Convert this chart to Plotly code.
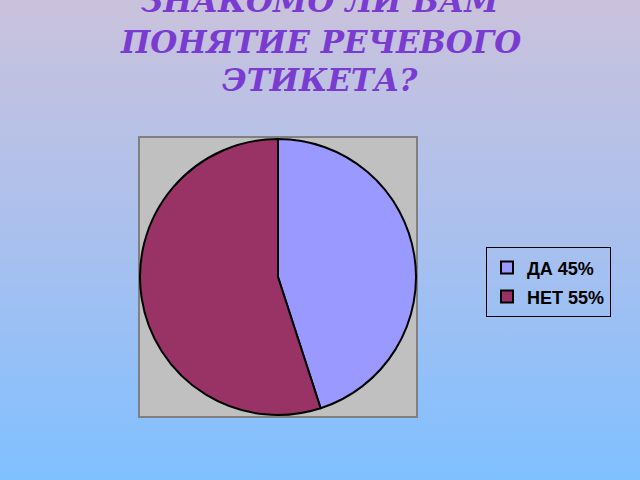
import plotly.graph_objects as go
import urllib.parse

labels = ["ДА 45%", "НЕТ 55%"]
values = [45, 55]
colors = ["#9999ff", "#993366"]
title_lines = ["ЗНАКОМО ЛИ ВАМ", "ПОНЯТИЕ РЕЧЕВОГО", "ЭТИКЕТА?"]

W, H = 640, 480

def px(x):
    return x / W

def py(y):
    return 1 - y / H

legend_labels = [f"<span style='font-size:18px'><b>{l}</b></span>" for l in labels]

fig = go.Figure()
fig.add_trace(go.Pie(
    labels=legend_labels,
    values=values,
    sort=False,
    direction="clockwise",
    rotation=0,
    marker=dict(colors=colors, line=dict(color="black", width=2)),
    textinfo="none",
    hoverinfo="label+percent",
    domain=dict(x=[px(140), px(416)], y=[py(416), py(138)]),
))

svg = ("<svg xmlns='http://www.w3.org/2000/svg' width='640' height='480'>"
       "<defs><linearGradient id='g' x1='0' y1='0' x2='0' y2='1'>"
       "<stop offset='0' stop-color='#cac2dc'/>"
       "<stop offset='0.5' stop-color='#a9c0ee'/>"
       "<stop offset='1' stop-color='#80c0ff'/>"
       "</linearGradient></defs>"
       "<rect width='640' height='480' fill='url(#g)'/></svg>")
src = "data:image/svg+xml;charset=utf-8," + urllib.parse.quote(svg)

fig.add_layout_image(dict(
    source=src, xref="paper", yref="paper", x=0, y=1,
    sizex=1, sizey=1, sizing="stretch", layer="below",
    xanchor="left", yanchor="top",
))

fig.add_shape(type="rect", xref="paper", yref="paper",
              x0=px(139), x1=px(417), y0=py(417), y1=py(137),
              fillcolor="#c0c0c0", line=dict(color="#808080", width=2),
              layer="below")

title_y = [1, 42, 80]
for t, yy in zip(title_lines, title_y):
    fig.add_annotation(text=f"<b><i>{t}</i></b>", xref="paper", yref="paper",
                       x=0.5, y=py(yy), xanchor="center", yanchor="middle",
                       showarrow=False,
                       font=dict(family="DejaVu Serif", size=31, color="#7a3cd0"))

fig.update_layout(
    width=W, height=H,
    margin=dict(l=0, r=0, t=0, b=0),
    paper_bgcolor="rgba(0,0,0,0)",
    plot_bgcolor="rgba(0,0,0,0)",
    showlegend=True,
    legend=dict(
        x=px(486), y=py(247), xanchor="left", yanchor="top",
        bgcolor="rgba(0,0,0,0)", bordercolor="black", borderwidth=1,
        font=dict(family="Liberation Sans", size=20, color="black"),
        itemwidth=30,
    ),
)

fig.write_html("out.html", config={"displayModeBar": False},
               post_script="document.body.style.margin='0';document.body.style.padding='0';")
